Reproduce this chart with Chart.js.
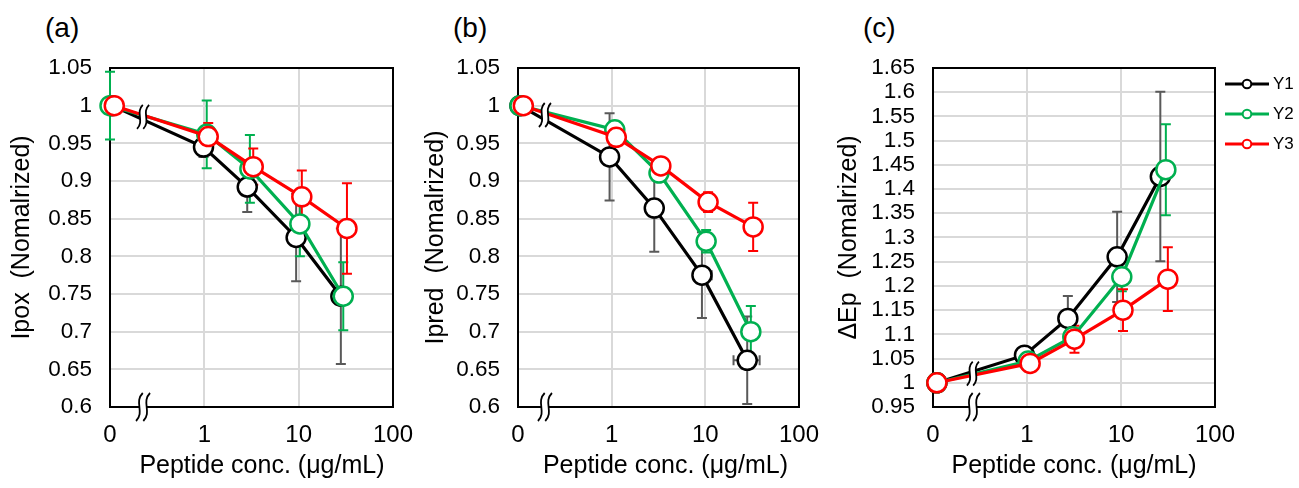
<!DOCTYPE html>
<html>
<head>
<meta charset="utf-8">
<script src="https://cdn.jsdelivr.net/npm/chart.js@4.4.1/dist/chart.umd.min.js"></script>
<style>
html,body{margin:0;padding:0;background:#fff;width:1299px;height:488px;overflow:hidden;font-family:'Liberation Sans',Arial,sans-serif;color:#000;}
.panel{position:absolute;top:0;height:488px;}
.lbl{position:absolute;top:12px;font-size:28px;line-height:32px;}
#legend{position:absolute;left:1225px;top:69px;font-size:17px;}
#legend .row{height:30px;display:flex;align-items:center;}
#legend span{margin-left:4px;}
</style>
</head>
<body>
<div class="lbl" style="left:45px">(a)</div>
<div class="lbl" style="left:453px">(b)</div>
<div class="lbl" style="left:863px">(c)</div>
<div class="panel" style="left:0px;width:415px"><canvas id="ca" width="415" height="488"></canvas></div>
<div class="panel" style="left:415px;width:415px"><canvas id="cb" width="415" height="488"></canvas></div>
<div class="panel" style="left:830px;width:420px"><canvas id="cc" width="420" height="488"></canvas></div>
<div id="legend"></div>
<script>
// ---------- data ----------
const seriesNames = ['Y1', 'Y2', 'Y3'];
const xTickValues = [0.1, 1, 10, 100];
const xTickLabels = ['0', '1', '10', '100'];
const xTitle = 'Peptide conc. (\u03bcg/mL)';

// (a) Ipox
const yTicksA = ['0.6','0.65','0.7','0.75','0.8','0.85','0.9','0.95','1','1.05'];
const aY1x = [0.105, 0.98, 2.85, 9.4, 28];
const aY1 = [1.0, 0.945, 0.892, 0.825, 0.747];
const aY1err = [0, 0.013, 0.033, 0.058, 0.09];
const aY2x = [0.1, 1.06, 3.04, 10.3, 29.7];
const aY2 = [1.0, 0.962, 0.916, 0.843, 0.747];
const aY2err = [0.045, 0.045, 0.045, 0.043, 0.045];
const aY3x = [0.111, 1.1, 3.3, 10.8, 32.5];
const aY3 = [1.0, 0.959, 0.919, 0.879, 0.837];
const aY3err = [0, 0.018, 0.024, 0.035, 0.06];

// (b) Ipred
const yTicksB = ['0.6','0.65','0.7','0.75','0.8','0.85','0.9','0.95','1','1.05'];
const bY1x = [0.105, 0.95, 2.85, 9.2, 28];
const bY1 = [1.0, 0.932, 0.864, 0.775, 0.662];
const bY1err = [0, 0.058, 0.058, 0.057, 0.058];
const bY1xLo = [null, null, null, 7.8, 20];
const bY1xHi = [null, null, null, 11.7, 38];
const bY2x = [0.105, 1.08, 3.2, 10.2, 30.6];
const bY2 = [1.0, 0.968, 0.9105, 0.82, 0.70];
const bY2err = [0, 0, 0, 0.015, 0.034];
const bY3x = [0.114, 1.12, 3.35, 10.7, 32.4];
const bY3 = [1.0, 0.958, 0.92, 0.872, 0.839];
const bY3err = [0, 0, 0, 0.013, 0.032];

// (c) ΔEp
const yTicksC = ['0.95','1','1.05','1.1','1.15','1.2','1.25','1.3','1.35','1.4','1.45','1.5','1.55','1.6','1.65'];
const cY1x = [0.11, 0.94, 2.72, 9.1, 26.2];
const cY1 = [1.0, 1.057, 1.133, 1.26, 1.426];
const cY1err = [0, 0.017, 0.046, 0.093, 0.175];
const cY2x = [0.11, 1.03, 3.07, 10.2, 30];
const cY2 = [1.0, 1.045, 1.095, 1.219, 1.44];
const cY2err = [0, 0, 0, 0.03, 0.094];
const cY3x = [0.11, 1.08, 3.2, 10.5, 31.5];
const cY3 = [1.0, 1.04, 1.09, 1.15, 1.214];
const cY3err = [0, 0, 0.028, 0.043, 0.066];

// ---------- styles ----------
const seriesColors = ['#000000', '#00b050', '#ff0000'];
const errColors = ['#595959', '#00b050', '#ff0000'];
const FONT = "'Liberation Sans', Arial, sans-serif";
const GRID = '#d9d9d9';

// legend (HTML)
const lg = document.getElementById('legend');
seriesNames.forEach((n, i) => {
  const c = seriesColors[i];
  const row = document.createElement('div');
  row.className = 'row';
  row.innerHTML = '<svg width="44" height="12"><line x1="0" y1="6" x2="44" y2="6" stroke="' + c +
    '" stroke-width="3"/><circle cx="22" cy="6" r="4.3" fill="#fff" stroke="' + c +
    '" stroke-width="2"/></svg><span>' + n + '</span>';
  lg.appendChild(row);
});

function drawBreak(ctx, cx, cy, h) {
  const half = h / 2, w = h * 0.2, gap = h * 0.13;
  const curve = (dx, rev) => {
    const pts = [[dx + w * 0.6, -half], [dx - w, -half * 0.35], [dx + w, half * 0.35], [dx - w * 0.6, half]];
    if (rev) pts.reverse();
    return pts;
  };
  const L = curve(-gap, false), R = curve(gap, true);
  ctx.save();
  ctx.translate(cx, cy);
  ctx.beginPath();
  ctx.moveTo(L[0][0], L[0][1]);
  ctx.bezierCurveTo(L[1][0], L[1][1], L[2][0], L[2][1], L[3][0], L[3][1]);
  ctx.lineTo(R[0][0], R[0][1]);
  ctx.bezierCurveTo(R[1][0], R[1][1], R[2][0], R[2][1], R[3][0], R[3][1]);
  ctx.closePath();
  ctx.fillStyle = '#fff';
  ctx.fill();
  ctx.strokeStyle = '#000';
  ctx.lineWidth = 1.8;
  [L, R].forEach(p => {
    ctx.beginPath();
    ctx.moveTo(p[0][0], p[0][1]);
    ctx.bezierCurveTo(p[1][0], p[1][1], p[2][0], p[2][1], p[3][0], p[3][1]);
    ctx.stroke();
  });
  ctx.restore();
}

const decorPlugin = {
  id: 'decor',
  beforeDatasetsDraw(chart) {
    const {ctx, chartArea: a, scales: {x, y}} = chart;
    ctx.save();
    ctx.strokeStyle = '#000';
    ctx.lineWidth = 2;
    ctx.strokeRect(a.left, a.top, a.right - a.left, a.bottom - a.top);
    const cap = 5;
    chart.data.datasets.forEach(ds => {
      ctx.strokeStyle = ds.errColor;
      ctx.lineWidth = 2;
      ds.data.forEach((p, i) => {
        const px = x.getPixelForValue(p.x);
        const py = y.getPixelForValue(p.y);
        const e = ds.yErr ? ds.yErr[i] : 0;
        ctx.beginPath();
        if (e) {
          const y1 = y.getPixelForValue(p.y + e), y2 = y.getPixelForValue(p.y - e);
          ctx.moveTo(px, y1); ctx.lineTo(px, y2);
          ctx.moveTo(px - cap, y1); ctx.lineTo(px + cap, y1);
          ctx.moveTo(px - cap, y2); ctx.lineTo(px + cap, y2);
        }
        if (ds.xLo && ds.xLo[i] != null) {
          const x1 = x.getPixelForValue(ds.xLo[i]), x2 = x.getPixelForValue(ds.xHi[i]);
          ctx.moveTo(x1, py); ctx.lineTo(x2, py);
          ctx.moveTo(x1, py - cap); ctx.lineTo(x1, py + cap);
          ctx.moveTo(x2, py - cap); ctx.lineTo(x2, py + cap);
        }
        ctx.stroke();
      });
    });
    ctx.restore();
  },
  afterDatasetsDraw(chart, args, opts) {
    const {ctx, chartArea: a, scales: {x}} = chart;
    const px = x.getPixelForValue(opts.breakX);
    drawBreak(ctx, px, a.bottom, 28);
    let sum = 0, n = 0;
    chart.data.datasets.forEach((ds, i) => {
      const m = chart.getDatasetMeta(i);
      const p0 = m.data[0], p1 = m.data[1];
      const t = (px - p0.x) / (p1.x - p0.x);
      sum += p0.y + t * (p1.y - p0.y); n++;
    });
    drawBreak(ctx, px, sum / n, 24);
  }
};

function noPad(s) { s.paddingLeft = 0; s.paddingRight = 0; s.paddingTop = 0; s.paddingBottom = 0; }

function makeChart(id, p) {
  const datasets = p.series.map((s, i) => ({
    label: seriesNames[i],
    data: s.x.map((xv, j) => ({x: xv, y: s.y[j]})),
    yErr: s.err, xLo: s.xLo || null, xHi: s.xHi || null,
    errColor: errColors[i],
    borderColor: seriesColors[i],
    backgroundColor: '#ffffff',
    borderWidth: 3.2,
    pointRadius: 9.5,
    pointBorderWidth: 2.5,
    pointBackgroundColor: '#ffffff',
    pointBorderColor: seriesColors[i],
    tension: 0,
    clip: false,
    order: 3 - i
  }));
  const yVals = p.yTicks.map(Number);
  return new Chart(document.getElementById(id), {
    type: 'line',
    data: {datasets},
    plugins: [decorPlugin],
    options: {
      responsive: false,
      animation: false,
      events: [],
      layout: {padding: {top: 68, right: p.padRight, bottom: 0, left: 0}},
      plugins: {
        legend: {display: false},
        tooltip: {enabled: false},
        decor: {breakX: p.breakX}
      },
      scales: {
        x: {
          type: 'logarithmic',
          min: 0.1, max: 100,
          afterBuildTicks: s => { s.ticks = xTickValues.map(v => ({value: v})); },
          afterFit: s => { s.height = 81; noPad(s); },
          ticks: {
            autoSkip: false, maxRotation: 0, padding: 14, color: '#000',
            font: {family: FONT, size: 24},
            callback: (v, i) => xTickLabels[i]
          },
          grid: {
            drawTicks: false, lineWidth: 2,
            color: c => (c.tick && (c.tick.value === 1 || c.tick.value === 10)) ? GRID : 'rgba(0,0,0,0)'
          },
          border: {display: false},
          title: {display: true, text: p.xTitlePrefix + xTitle, color: '#000', font: {family: FONT, size: 25}, padding: {top: 0, bottom: 7}}
        },
        y: {
          min: yVals[0], max: yVals[yVals.length - 1],
          afterBuildTicks: s => { s.ticks = yVals.map(v => ({value: v})); },
          afterFit: s => { s.width = p.yWidth; noPad(s); },
          ticks: {
            autoSkip: false, padding: 18, color: '#000',
            font: {family: FONT, size: 22.5},
            callback: (v, i) => p.yTicks[i]
          },
          grid: {drawTicks: false, lineWidth: 2, color: GRID},
          border: {display: false},
          title: {display: true, text: p.yTitle, color: '#000', font: {family: FONT, size: 25}, padding: {top: p.titlePad, bottom: 0}}
        }
      }
    }
  });
}

makeChart('ca', {
  yTicks: yTicksA, yTitle: 'Ipox  (Nomalrized)', yWidth: 110, padRight: 22, titlePad: 7, breakX: 0.224, xTitlePrefix: '   ',
  series: [
    {x: aY1x, y: aY1, err: aY1err},
    {x: aY2x, y: aY2, err: aY2err},
    {x: aY3x, y: aY3, err: aY3err}
  ]
});
makeChart('cb', {
  yTicks: yTicksB, yTitle: 'Ipred  (Nomalrized)', yWidth: 103, padRight: 31, titlePad: 6, breakX: 0.194, xTitlePrefix: '  ',
  series: [
    {x: bY1x, y: bY1, err: bY1err, xLo: bY1xLo, xHi: bY1xHi},
    {x: bY2x, y: bY2, err: bY2err},
    {x: bY3x, y: bY3, err: bY3err}
  ]
});
makeChart('cc', {
  yTicks: yTicksC, yTitle: '\u0394Ep  (Nomalrized)', yWidth: 103, padRight: 35, titlePad: 4, breakX: 0.266, xTitlePrefix: '',
  series: [
    {x: cY1x, y: cY1, err: cY1err},
    {x: cY2x, y: cY2, err: cY2err},
    {x: cY3x, y: cY3, err: cY3err}
  ]
});
</script>
</body>
</html>
